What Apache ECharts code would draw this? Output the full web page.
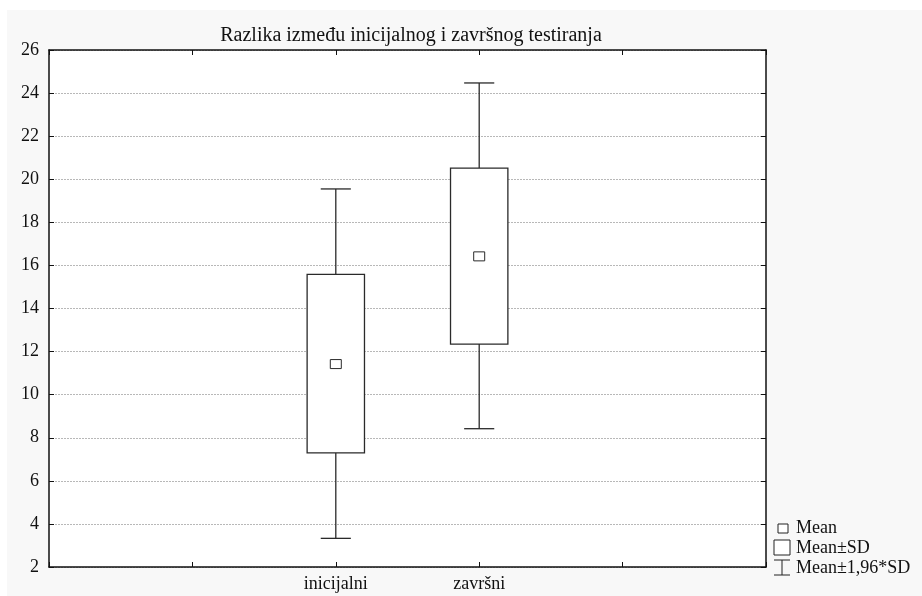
<!DOCTYPE html>
<html><head><meta charset="utf-8">
<script src="https://cdn.jsdelivr.net/npm/echarts@6/dist/echarts.min.js"></script>
<style>html,body{margin:0;padding:0;background:#fff}#c{width:922px;height:596px}</style>
</head><body><div id="c"></div>
<script>
const categories = ['inicijalni', 'završni'];
const meanValues = [11.42, 16.42];
const sdLow = [7.3, 12.35];
const sdHigh = [15.58, 20.52];
const ciLow = [3.33, 8.42];
const ciHigh = [19.55, 24.47];
const yTicks = [2, 4, 6, 8, 10, 12, 14, 16, 18, 20, 22, 24, 26];
const titleText = 'Razlika između inicijalnog i završnog testiranja';
const legendLabels = ['Mean', 'Mean±SD', 'Mean±1,96*SD'];

const FONT = '"Liberation Serif", "DejaVu Serif", serif';
const chart = echarts.init(document.getElementById('c'));
const data = categories.map((c, i) => [i + 1, meanValues[i], sdLow[i], sdHigh[i], ciLow[i], ciHigh[i]]);

function renderItem(params, api) {
  const x = api.value(0);
  const pMean = api.coord([x, api.value(1)]);
  const pSdL = api.coord([x, api.value(2)]);
  const pSdH = api.coord([x, api.value(3)]);
  const pCiL = api.coord([x, api.value(4)]);
  const pCiH = api.coord([x, api.value(5)]);
  const boxW = api.size([0.4, 0])[0];
  const capW = api.size([0.21, 0])[0];
  const cx = pMean[0];
  const st = { stroke: '#2a2a2a', lineWidth: 1.3, fill: null };
  return {
    type: 'group',
    children: [
      { type: 'line', shape: { x1: cx, y1: pSdH[1], x2: cx, y2: pCiH[1] }, style: st },
      { type: 'line', shape: { x1: cx, y1: pSdL[1], x2: cx, y2: pCiL[1] }, style: st },
      { type: 'line', shape: { x1: cx - capW / 2, y1: pCiH[1], x2: cx + capW / 2, y2: pCiH[1] }, style: st },
      { type: 'line', shape: { x1: cx - capW / 2, y1: pCiL[1], x2: cx + capW / 2, y2: pCiL[1] }, style: st },
      { type: 'rect', shape: { x: cx - boxW / 2, y: pSdH[1], width: boxW, height: pSdL[1] - pSdH[1] }, style: { stroke: '#2a2a2a', lineWidth: 1.3, fill: '#fff' } },
      { type: 'rect', shape: { x: cx - 5.5, y: pMean[1] - 4.5, width: 11, height: 9 }, style: { stroke: '#2a2a2a', lineWidth: 1, fill: '#fff' } }
    ]
  };
}

const axisCommon = {
  axisLine: { show: true, onZero: false, lineStyle: { color: '#111', width: 1.5 } },
  axisTick: { show: true, inside: true, length: 5, lineStyle: { color: '#111' } }
};

const lx = 774, ly = 528;
chart.setOption({
  animation: false,
  backgroundColor: '#fff',
  title: {
    text: titleText, left: 406, top: 21, textAlign: 'center',
    textStyle: { fontFamily: FONT, fontSize: 20, fontWeight: 'normal', color: '#111' }
  },
  grid: { left: 49, top: 50, right: 156, bottom: 29 },
  xAxis: [Object.assign({
    type: 'value', min: -1, max: 4, interval: 1, position: 'bottom',
    splitLine: { show: false },
    axisLabel: {
      fontFamily: FONT, fontSize: 18, color: '#111', margin: 8,
      formatter: v => (v >= 1 && v <= categories.length && Number.isInteger(v)) ? categories[v - 1] : ''
    }
  }, axisCommon), Object.assign({
    type: 'value', min: -1, max: 4, interval: 1, position: 'top',
    splitLine: { show: false }, axisLabel: { show: false }
  }, axisCommon)],
  yAxis: [Object.assign({
    type: 'value', min: yTicks[0], max: yTicks[yTicks.length - 1], interval: 2, position: 'left',
    splitLine: { show: true, lineStyle: { color: '#b8b8b8', type: [2, 1], width: 1 } },
    axisLabel: { fontFamily: FONT, fontSize: 18, color: '#111', margin: 10 }
  }, axisCommon), Object.assign({
    type: 'value', min: yTicks[0], max: yTicks[yTicks.length - 1], interval: 2, position: 'right',
    splitLine: { show: false }, axisLabel: { show: false }
  }, axisCommon)],
  graphic: [
    { type: 'rect', z: -10, silent: true, shape: { x: 7, y: 10, width: 915, height: 586 }, style: { fill: '#f8f8f8' } },
    { type: 'rect', z: -9, silent: true, shape: { x: 49, y: 50, width: 717, height: 517 }, style: { fill: '#fff' } },
    { type: 'rect', shape: { x: lx + 4, y: ly - 4, width: 10, height: 9 }, style: { stroke: '#222', fill: '#fff', lineWidth: 1 } },
    { type: 'rect', shape: { x: lx, y: ly + 12, width: 16, height: 15 }, style: { stroke: '#222', fill: '#fff', lineWidth: 1 } },
    { type: 'line', shape: { x1: lx, y1: ly + 32, x2: lx + 16, y2: ly + 32 }, style: { stroke: '#222', lineWidth: 1 } },
    { type: 'line', shape: { x1: lx + 8, y1: ly + 32, x2: lx + 8, y2: ly + 47 }, style: { stroke: '#222', lineWidth: 1 } },
    { type: 'line', shape: { x1: lx, y1: ly + 47, x2: lx + 16, y2: ly + 47 }, style: { stroke: '#222', lineWidth: 1 } },
    { type: 'text', x: 796, y: ly, style: { text: legendLabels[0], font: '18px ' + FONT, fill: '#111', verticalAlign: 'middle' } },
    { type: 'text', x: 796, y: ly + 20, style: { text: legendLabels[1], font: '18px ' + FONT, fill: '#111', verticalAlign: 'middle' } },
    { type: 'text', x: 796, y: ly + 40, style: { text: legendLabels[2], font: '18px ' + FONT, fill: '#111', verticalAlign: 'middle' } }
  ],
  series: [{
    type: 'custom', renderItem: renderItem, data: data,
    encode: { x: 0, y: [1, 2, 3, 4, 5] }, z: 5
  }]
});
</script></body></html>
